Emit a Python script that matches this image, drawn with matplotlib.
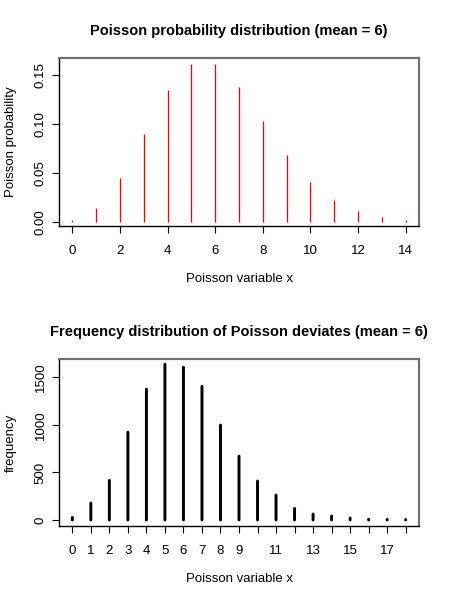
import matplotlib
matplotlib.use("Agg")
import matplotlib.pyplot as plt

plt.rcParams['font.family'] = ['Liberation Sans', 'DejaVu Sans']

# Poisson pmf, mean 6
x_prob = list(range(0, 15))
prob = [0.0025, 0.0149, 0.0446, 0.0892, 0.1339, 0.1606, 0.1606, 0.1377,
        0.1033, 0.0688, 0.0413, 0.0225, 0.0113, 0.0052, 0.0022]

# counts of simulated Poisson deviates
x_freq = list(range(0, 19))
freq = [28, 179, 417, 924, 1376, 1640, 1607, 1407, 998, 672, 410, 263,
        123, 63, 42, 21, 8, 6, 5]
freq_ticklabels = ['0', '1', '2', '3', '4', '5', '6', '7', '8', '9', '',
                   '11', '', '13', '', '15', '', '17', '']

W, H = 450, 600
fig = plt.figure(figsize=(4.5, 6), dpi=100)


def style_axes(ax):
    # R-like box: black left/bottom, greyish top/right
    for s in ('left', 'bottom'):
        ax.spines[s].set_color('black')
        ax.spines[s].set_linewidth(1.0)
    for s in ('top', 'right'):
        ax.spines[s].set_color('#707070')
        ax.spines[s].set_linewidth(1.6)
    ax.tick_params(axis='both', direction='out', length=5, width=0.8,
                   labelsize=9.5, color='black')
    ax.tick_params(axis='x', pad=9)
    ax.tick_params(axis='y', pad=4)
    for lab in ax.get_yticklabels():
        lab.set_rotation(90)
        lab.set_va('center')


# top panel
ax1 = fig.add_axes([59 / W, 1 - 226 / H, 360 / W, 168 / H])
ax1.vlines(x_prob, 0, prob, colors='red', linewidth=0.9)
ax1.set_xlim(-0.56, 14.56)
ax1.set_ylim(-0.0038, 0.1669)
ax1.set_xticks(range(0, 15, 2))
ax1.set_yticks([0.0, 0.05, 0.10, 0.15])
ax1.set_yticklabels(['0.00', '0.05', '0.10', '0.15'])
style_axes(ax1)
ax1.set_xlabel('Poisson variable x', fontsize=9.5, va='center')
ax1.set_ylabel('Poisson probability', fontsize=9.5, va='center')
ax1.xaxis.set_label_coords(0.5, (226 - 279) / 168)
ax1.yaxis.set_label_coords((11 - 59) / 360, 0.5)
fig.text(239 / W, 1 - 31 / H, 'Poisson probability distribution (mean = 6)',
         ha='center', va='center', fontsize=10.5, fontweight='bold')

# bottom panel
ax2 = fig.add_axes([59 / W, 1 - 526 / H, 360 / W, 167 / H])
lc2 = ax2.vlines(x_freq, 0, freq, colors='black', linewidth=2.1)
lc2.set_capstyle('round')
lc2.set_snap(False)
ax2.set_xlim(-0.72, 18.72)
ax2.set_ylim(-63, 1693)
ax2.set_xticks(x_freq)
ax2.set_xticklabels(freq_ticklabels)
ax2.set_yticks([0, 500, 1000, 1500])
style_axes(ax2)
ax2.set_xlabel('Poisson variable x', fontsize=9.5, va='center')
ax2.set_ylabel('frequency', fontsize=9.5, va='center')
ax2.xaxis.set_label_coords(0.5, (526 - 579) / 167)
ax2.yaxis.set_label_coords((11 - 59) / 360, 0.5)
fig.text(239 / W, 1 - 332 / H, 'Frequency distribution of Poisson deviates (mean = 6)',
         ha='center', va='center', fontsize=10.5, fontweight='bold')

fig.savefig('out.png', dpi=100)
